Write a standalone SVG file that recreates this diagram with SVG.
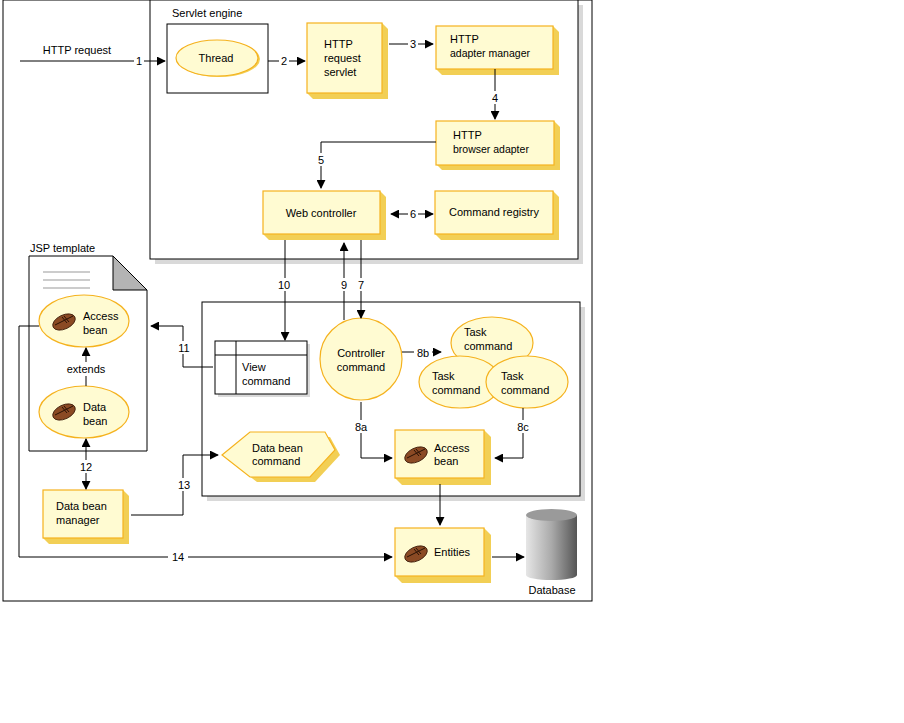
<svg xmlns="http://www.w3.org/2000/svg" width="904" height="723" viewBox="0 0 904 723">
<defs>
<style>
text{font-family:"Liberation Sans",Arial,sans-serif;font-size:11px;fill:#000}
.c{text-anchor:middle}
.y{fill:#fffbd2;stroke:#f5b21e;stroke-width:1.2}
.sh{fill:#f2cf55}
.ln{fill:none;stroke:#000;stroke-width:1}
.lab{fill:#fff}
</style>
<marker id="a" viewBox="0 0 10 10" refX="9" refY="5" markerWidth="9" markerHeight="9" markerUnits="userSpaceOnUse" orient="auto-start-reverse"><path d="M0,0L10,5L0,10z" fill="#000"/></marker>
<g id="fb">
<ellipse cx="0" cy="0" rx="12" ry="7" transform="rotate(-25)" fill="#8b4a24" stroke="#3a1a08" stroke-width="0.8"/>
<path d="M-9,3L9,-6M-2,-5L3,1M0,-6L5,0" stroke="#2a1205" stroke-width="1" fill="none"/>
</g>
<linearGradient id="db" x1="0" x2="1"><stop offset="0" stop-color="#e6e6e6"/><stop offset="0.5" stop-color="#aaa"/><stop offset="1" stop-color="#555"/></linearGradient>
</defs>
<rect x="0" y="0" width="904" height="723" fill="#fff"/>
<rect x="3" y="0" width="589" height="601" fill="none" stroke="#000"/>
<g id="servlet-engine">
<rect x="155" y="5" width="428" height="259" fill="#d9d9d9"/>
<rect x="150" y="0" width="428" height="259" fill="#fff" stroke="#000"/>
<text x="172" y="17">Servlet engine</text>
</g>
<g id="thread">
<rect x="167" y="24" width="101" height="69" fill="#fff" stroke="#000"/>
<ellipse cx="219" cy="59" rx="41" ry="18" class="sh"/>
<ellipse cx="217" cy="58" rx="41" ry="18" class="y"/>
<text x="216" y="62" class="c">Thread</text>
</g>
<g id="request-servlet">
<path d="M307,23h75l6,6v70h-75l-6,-6z" class="sh"/>
<rect x="307" y="23" width="75" height="70" class="y"/>
<text x="324" y="48">HTTP</text><text x="324" y="62">request</text><text x="324" y="76">servlet</text>
</g>
<g id="adapter-manager">
<path d="M436,26h117l6,6v43h-117l-6,-6z" class="sh"/>
<rect x="436" y="26" width="117" height="43" class="y"/>
<text x="450" y="43">HTTP</text><text x="450" y="57" style="font-size:10.5px">adapter manager</text>
</g>
<g id="browser-adapter">
<path d="M436,121h118l6,6v43h-118l-6,-6z" class="sh"/>
<rect x="436" y="121" width="118" height="44" class="y"/>
<text x="453" y="139">HTTP</text><text x="453" y="153" style="font-size:10.5px">browser adapter</text>
</g>
<g id="web-controller">
<path d="M263,191h117l6,6v43h-117l-6,-6z" class="sh"/>
<rect x="263" y="191" width="117" height="43" class="y"/>
<text x="321" y="217" class="c">Web controller</text>
</g>
<g id="command-registry">
<path d="M435,191h118l6,6v43h-118l-6,-6z" class="sh"/>
<rect x="435" y="191" width="118" height="43" class="y"/>
<text x="494" y="216" class="c">Command registry</text>
</g>
<g id="jsp-template">
<text x="30" y="252">JSP template</text>
<path d="M29,256H113L147,290V451H29z" fill="#fff" stroke="#000"/>
<path d="M113,256L147,290H113z" fill="#b4b4b4" stroke="#000"/>
<path d="M43,272H90M43,280H90M43,288H90" stroke="#999"/>
</g>
<g id="jsp-access-bean">
<ellipse cx="84" cy="321" rx="45" ry="26" class="y"/>
<use href="#fb" x="64" y="322"/>
<text x="83" y="320">Access</text><text x="83" y="334">bean</text>
</g>
<g id="data-bean">
<ellipse cx="84" cy="412" rx="45" ry="26" class="y"/>
<use href="#fb" x="64" y="412"/>
<text x="83" y="411">Data</text><text x="83" y="425">bean</text>
</g>
<g id="command-area">
<rect x="207" y="307" width="378" height="194" fill="#d9d9d9"/>
<rect x="202" y="302" width="378" height="194" fill="#fff" stroke="#000"/>
</g>
<g id="view-command">
<rect x="218" y="344" width="92" height="53" fill="#d9d9d9"/>
<rect x="215" y="341" width="92" height="53" fill="#fff" stroke="#000"/>
<path d="M236,341V394M215,355H307" stroke="#000"/>
<text x="242" y="371">View</text><text x="242" y="385">command</text>
</g>
<g id="controller-command">
<circle cx="361" cy="359" r="41" class="y"/>
<text x="361" y="357" class="c">Controller</text><text x="361" y="371" class="c">command</text>
</g>
<g id="task-commands">
<ellipse cx="492" cy="343" rx="41" ry="26" class="y"/>
<text x="464" y="336">Task</text><text x="464" y="350">command</text>
<ellipse cx="460" cy="382" rx="41" ry="26" class="y"/>
<text x="432" y="380">Task</text><text x="432" y="394">command</text>
<ellipse cx="527" cy="382" rx="41" ry="26" class="y"/>
<text x="501" y="380">Task</text><text x="501" y="394">command</text>
</g>
<g id="data-bean-command">
<path d="M228,460L256,437H330L340,455L315,482H257z" class="sh"/>
<path d="M222,455L250,432H325L335,450L310,477H250z" class="y"/>
<text x="252" y="452">Data bean</text><text x="252" y="465">command</text>
</g>
<g id="access-bean">
<path d="M395,430h89l7,7v48h-89l-7,-7z" class="sh"/>
<rect x="395" y="430" width="89" height="48" class="y"/>
<use href="#fb" x="416" y="455"/>
<text x="434" y="452">Access</text><text x="434" y="465">bean</text>
</g>
<g id="data-bean-manager">
<path d="M43,490h80l6,6v48h-80l-6,-6z" class="sh"/>
<rect x="43" y="490" width="80" height="48" class="y"/>
<text x="56" y="510">Data bean</text><text x="56" y="524">manager</text>
</g>
<g id="entities">
<path d="M395,528h89l7,7v48h-89l-7,-7z" class="sh"/>
<rect x="395" y="528" width="89" height="48" class="y"/>
<use href="#fb" x="416" y="554"/>
<text x="434" y="556">Entities</text>
</g>
<g id="database">
<path d="M526,515V575A25,5 0 0 0 577,575V515z" fill="url(#db)"/>
<ellipse cx="551.5" cy="515" rx="25.5" ry="6" fill="#9a9a9a"/>
<text x="552" y="594" class="c">Database</text>
</g>
<g id="connectors">
<text x="77" y="54" class="c">HTTP request</text>
<path d="M20,61H165" class="ln" marker-end="url(#a)"/>
<rect x="134" y="54" width="10" height="13" class="lab"/><text x="139" y="65" class="c">1</text>
<path d="M268,61H305" class="ln" marker-end="url(#a)"/>
<rect x="279" y="54" width="10" height="13" class="lab"/><text x="284" y="65" class="c">2</text>
<path d="M389,44H433" class="ln" marker-end="url(#a)"/>
<rect x="408" y="37" width="10" height="13" class="lab"/><text x="413" y="48" class="c">3</text>
<path d="M495,69V119" class="ln" marker-end="url(#a)"/>
<rect x="490" y="91" width="10" height="13" class="lab"/><text x="495" y="102" class="c">4</text>
<path d="M436,142H321V188" class="ln" marker-end="url(#a)"/>
<rect x="316" y="153" width="10" height="13" class="lab"/><text x="321" y="164" class="c">5</text>
<path d="M391,214H433" class="ln" marker-start="url(#a)" marker-end="url(#a)"/>
<rect x="408" y="207" width="10" height="13" class="lab"/><text x="413" y="218" class="c">6</text>
<path d="M285,240V340" class="ln" marker-end="url(#a)"/>
<rect x="276" y="278" width="18" height="13" class="lab"/><text x="284" y="289" class="c">10</text>
<path d="M344,320V243" class="ln" marker-end="url(#a)"/>
<rect x="339" y="278" width="10" height="13" class="lab"/><text x="344" y="289" class="c">9</text>
<path d="M361,240V318" class="ln" marker-end="url(#a)"/>
<rect x="356" y="278" width="10" height="13" class="lab"/><text x="361" y="289" class="c">7</text>
<path d="M213,367H183V326H151" class="ln" marker-end="url(#a)"/>
<rect x="174" y="341" width="18" height="13" class="lab"/><text x="184" y="352" class="c">11</text>
<path d="M86,386V348" class="ln" marker-end="url(#a)"/>
<rect x="64" y="362" width="44" height="14" class="lab"/><text x="86" y="373" class="c">extends</text>
<path d="M86,439V489" class="ln" marker-start="url(#a)" marker-end="url(#a)"/>
<rect x="77" y="460" width="18" height="13" class="lab"/><text x="86" y="471" class="c">12</text>
<path d="M131,515H183V455H218" class="ln" marker-end="url(#a)"/>
<rect x="174" y="478" width="18" height="13" class="lab"/><text x="184" y="489" class="c">13</text>
<path d="M39,326H19V557H392" class="ln" marker-end="url(#a)"/>
<rect x="168" y="551" width="20" height="13" class="lab"/><text x="178" y="561" class="c">14</text>
<path d="M361,402V458H392" class="ln" marker-end="url(#a)"/>
<rect x="352" y="420" width="18" height="13" class="lab"/><text x="361" y="431" class="c">8a</text>
<path d="M402,352H441" class="ln" marker-end="url(#a)"/>
<rect x="414" y="346" width="18" height="13" class="lab"/><text x="423" y="357" class="c">8b</text>
<path d="M523,408V458H495" class="ln" marker-end="url(#a)"/>
<rect x="514" y="420" width="18" height="13" class="lab"/><text x="523" y="431" class="c">8c</text>
<path d="M440,484V525" class="ln" marker-end="url(#a)"/>
<path d="M492,557H524" class="ln" marker-end="url(#a)"/>
</g>
</svg>
